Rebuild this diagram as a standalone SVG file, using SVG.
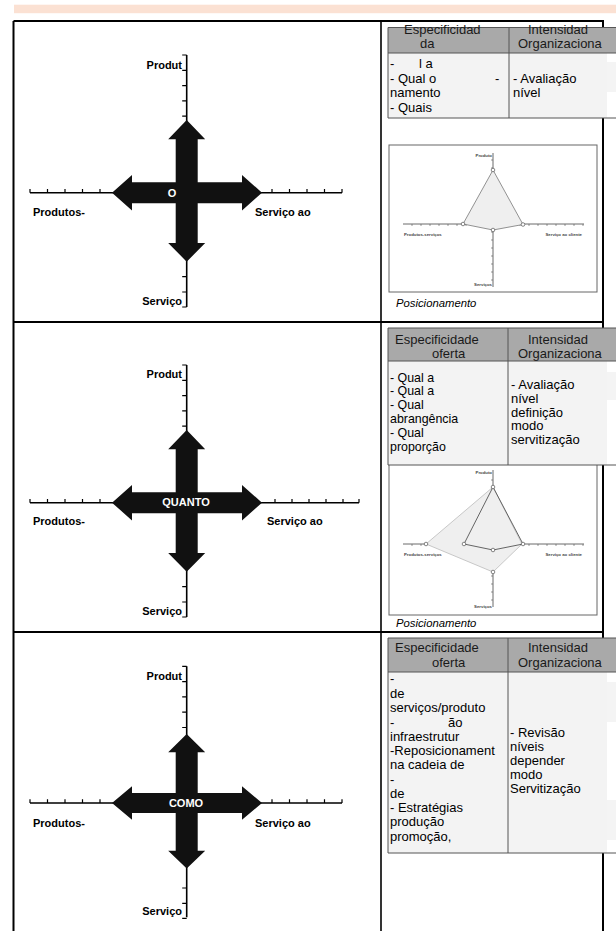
<svg xmlns="http://www.w3.org/2000/svg" width="616" height="931" viewBox="0 0 616 931">
<defs>
<style>
.lbl{font-family:"Liberation Sans",Arial,sans-serif;font-size:11px;font-weight:bold;fill:#000}
.ctr{font-family:"Liberation Sans",Arial,sans-serif;font-size:11px;font-weight:bold;fill:#fff;text-anchor:middle}
.axis{stroke:#000;stroke-width:1.6;fill:none}
.tick{stroke:#000;stroke-width:1.2;fill:none}
.th{font-family:"Liberation Sans",Arial,sans-serif;font-size:13px;fill:#1a1a1a}
.td{font-family:"Liberation Sans",Arial,sans-serif;font-size:13px;fill:#000}
.tds{font-family:"Liberation Sans",Arial,sans-serif;font-size:12.4px;fill:#000}
.hdr{fill:#a9a9a9}
.body{fill:#f3f3f3}
.tline{stroke:#555;stroke-width:1;fill:none}
.frame{fill:#fff;stroke:#666;stroke-width:1}
.rax{stroke:#444;stroke-width:0.8;fill:none}
.rtk{stroke:#555;stroke-width:0.6;fill:none}
.rt{font-family:"Liberation Sans",Arial,sans-serif;font-size:4.3px;font-weight:bold;fill:#444}
.pos{font-family:"Liberation Sans",Arial,sans-serif;font-size:11.3px;font-style:italic;fill:#000}
.vtx{fill:#fff;stroke:#555;stroke-width:0.7}
.border{stroke:#000;stroke-width:2;fill:none}
</style>
<path id="cross" d="M0,-72.7 L18.5,-53.5 L11,-53.5 L11,-10.5 L55.3,-10.5 L55.3,-17.7 L75.3,0 L55.3,17.7 L55.3,10.5 L11,10.5 L11,50.3 L18.5,50.3 L0,69 L-18.5,50.3 L-11,50.3 L-11,10.5 L-54.7,10.5 L-54.7,17.7 L-74.7,0 L-54.7,-17.7 L-54.7,-10.5 L-11,-10.5 L-11,-53.5 L-18.5,-53.5 Z" fill="#111"/>
<path id="vticks" class="tick" d="M182.2,55H186.7 M182.2,70.3H186.7 M182.2,85.6H186.7 M182.2,100.9H186.7 M182.2,116.2H186.7 M182.2,276.7H186.7 M182.2,292H186.7 M182.2,307H186.7"/>
<path id="lticks" class="tick" d="M30,192.7V189 M47.5,192.7V189 M65,192.7V189 M82.5,192.7V189 M100,192.7V189"/>
<g id="rticks">
<path class="rtk" d="M491,160h2M491,168h2M491,176h2M491,184h2M491,192h2M491,200h2M491,208h2M491,216h2M491,232h2M491,240h2M491,248h2M491,256h2M491,264h2M491,272h2M491,280h2"/>
<path class="rtk" d="M412,224v2M421,224v2M430,224v2M439,224v2M448,224v2M457,224v2M466,224v2M475,224v2M484,224v2M502,224v2M511,224v2M520,224v2M529,224v2M538,224v2M547,224v2M556,224v2M565,224v2M574,224v2M583,224v2"/>
</g>
</defs>

<rect x="0" y="0" width="616" height="931" fill="#fff"/>
<rect id="top-band" x="14" y="4.7" width="602" height="8.5" fill="#fbe1d3"/>

<g id="frame">
<path class="border" d="M13.5,21 H604 M13.5,21 V931 M603,21 V931 M13.5,322 H604 M13.5,632 H604"/>
<path d="M381,21 V931" stroke="#000" stroke-width="1.6"/>
</g>

<g id="row1-cross">
<path class="axis" d="M186.7,55 V307 M30,192.7 H342"/>
<use href="#vticks"/>
<use href="#lticks"/>
<path class="tick" d="M272,192.7V189 M289.5,192.7V189 M307,192.7V189 M324.5,192.7V189 M342,192.7V189"/>
<use href="#cross" transform="translate(186.7,192.7)"/>
<text class="lbl" x="182" y="69" text-anchor="end">Produt</text>
<text class="lbl" x="182" y="305" text-anchor="end">Serviço</text>
<text class="lbl" x="33" y="216">Produtos-</text>
<text class="lbl" x="255" y="216">Serviço ao</text>
<text class="ctr" x="172" y="196.5">O</text>
</g>

<g id="row2-cross" transform="translate(0,310)">
<path class="axis" d="M186.7,55 V307 M30,192.7 H359"/>
<use href="#vticks"/>
<use href="#lticks"/>
<path class="tick" d="M275,192.7V189 M292,192.7V189 M309,192.7V189 M326,192.7V189 M343,192.7V189 M359,192.7V189"/>
<use href="#cross" transform="translate(186.7,192.7)"/>
<text class="lbl" x="182" y="68" text-anchor="end">Produt</text>
<text class="lbl" x="182" y="305" text-anchor="end">Serviço</text>
<text class="lbl" x="33" y="215">Produtos-</text>
<text class="lbl" x="267" y="215">Serviço ao</text>
<text class="ctr" x="186" y="196">QUANTO</text>
</g>

<g id="row3-cross" transform="translate(0,610.3)">
<path class="axis" d="M186.7,56 V307 M30,192.7 H342"/>
<use href="#vticks" transform="translate(0,1)"/>
<use href="#lticks"/>
<path class="tick" d="M272,192.7V189 M289.5,192.7V189 M307,192.7V189 M324.5,192.7V189 M342,192.7V189"/>
<use href="#cross" transform="translate(186.7,192.7) scale(1,0.95)"/>
<text class="lbl" x="182" y="69.7" text-anchor="end">Produt</text>
<text class="lbl" x="182" y="304.7" text-anchor="end">Serviço</text>
<text class="lbl" x="33" y="216.7">Produtos-</text>
<text class="lbl" x="255" y="216.7">Serviço ao</text>
<text class="ctr" x="186" y="196.7">COMO</text>
</g>

<g id="radar1">
<rect class="frame" x="389" y="145" width="208" height="147"/>
<path class="rax" d="M493,153 V287 M403,224 H584"/>
<use href="#rticks"/>
<polygon points="493,170 523,224.5 493,230 463,224" fill="#efefef" stroke="#777" stroke-width="0.8"/>
<circle class="vtx" cx="493" cy="170" r="1.8"/>
<circle class="vtx" cx="523" cy="224.5" r="1.8"/>
<circle class="vtx" cx="493" cy="230" r="1.8"/>
<circle class="vtx" cx="463" cy="224" r="1.8"/>
<text class="rt" x="492" y="156.5" text-anchor="end">Produto</text>
<text class="rt" x="404" y="235.5">Produtos-serviços</text>
<text class="rt" x="582" y="235.5" text-anchor="end">Serviço ao cliente</text>
<text class="rt" x="492" y="286" text-anchor="end">Serviços</text>
<text class="pos" x="396" y="307">Posicionamento</text>
</g>

<g id="radar2">
<rect class="frame" x="389" y="462" width="208" height="153"/>
<path class="rax" d="M493,470 V607 M403,544 H584"/>
<use href="#rticks" transform="translate(0,320)"/>
<polygon points="493,487 522,544 493,572 426,544" fill="#efefef" stroke="#bbb" stroke-width="0.8"/>
<polygon points="493,487 523,544 493,550 464,544" fill="none" stroke="#555" stroke-width="0.9"/>
<circle class="vtx" cx="493" cy="487" r="1.8"/>
<circle class="vtx" cx="523" cy="544" r="1.8"/>
<circle class="vtx" cx="493" cy="550" r="1.8"/>
<circle class="vtx" cx="464" cy="544" r="1.8"/>
<circle class="vtx" cx="426" cy="544" r="1.8"/>
<circle class="vtx" cx="493" cy="572" r="1.8"/>
<text class="rt" x="492" y="474" text-anchor="end">Produto</text>
<text class="rt" x="404" y="555.5">Produtos-serviços</text>
<text class="rt" x="582" y="555.5" text-anchor="end">Serviço ao cliente</text>
<text class="rt" x="492" y="608" text-anchor="end">Serviços</text>
<text class="pos" x="396" y="627">Posicionamento</text>
</g>

<g id="table1">
<rect class="hdr" x="388" y="27.5" width="228" height="25.5"/>
<rect class="body" x="388" y="53" width="228" height="65"/>
<rect x="607" y="53" width="9" height="65" fill="#fff"/>
<rect x="607" y="62" width="9" height="30" fill="#f4f4f4"/>
<path class="tline" d="M388,27.5 H616 M388,53 H616 M388,118 H616 M388,27.5 V118 M509,27.5 V118"/>
<text class="th" x="404" y="34">Especificidad</text>
<text class="th" x="420" y="48">da</text>
<text class="th" x="528" y="34">Intensidad</text>
<text class="th" x="518" y="48">Organizaciona</text>
<text class="td" x="390" y="68">-</text>
<text class="td" x="419" y="68">l a</text>
<text class="td" x="390" y="82.5">- Qual o</text>
<text class="td" x="495" y="82.5">-</text>
<text class="td" x="390" y="97">namento</text>
<text class="td" x="390" y="111.5">- Quais</text>
<text class="td" x="513" y="82.5">- Avaliação</text>
<text class="td" x="513" y="97">nível</text>
</g>

<g id="table2">
<rect class="hdr" x="388" y="328" width="228" height="33"/>
<rect class="body" x="388" y="361" width="228" height="104"/>
<rect x="607" y="361" width="9" height="104" fill="#fff"/>
<rect x="607" y="372" width="9" height="28" fill="#f4f4f4"/>
<path class="tline" d="M388,328 H616 M388,361 H616 M388,465 H616 M388,328 V465 M508,328 V465"/>
<text class="th" x="395" y="343.5">Especificidade</text>
<text class="th" x="432" y="358">oferta</text>
<text class="th" x="528" y="343.5">Intensidad</text>
<text class="th" x="518" y="358">Organizaciona</text>
<text class="tds" x="390" y="381.5">- Qual a</text>
<text class="tds" x="390" y="395.4">- Qual a</text>
<text class="tds" x="390" y="409.3">- Qual</text>
<text class="tds" x="390" y="423.2">abrangência</text>
<text class="tds" x="390" y="437.1">- Qual</text>
<text class="tds" x="390" y="451">proporção</text>
<text class="td" x="511" y="389">- Avaliação</text>
<text class="td" x="511" y="403">nível</text>
<text class="td" x="511" y="416.5">definição</text>
<text class="td" x="511" y="430">modo</text>
<text class="td" x="511" y="443.5">servitização</text>
</g>

<g id="table3">
<rect class="hdr" x="388" y="638" width="228" height="34"/>
<rect class="body" x="388" y="672" width="228" height="181"/>
<rect x="607" y="672" width="9" height="181" fill="#fff"/>
<rect x="607" y="682" width="9" height="40" fill="#f4f4f4"/>
<rect x="607" y="800" width="9" height="40" fill="#f4f4f4"/>
<path class="tline" d="M388,638 H616 M388,672 H616 M388,853 H616 M388,638 V853 M508,638 V853"/>
<text class="th" x="395" y="652">Especificidade</text>
<text class="th" x="432" y="667">oferta</text>
<text class="th" x="528" y="652">Intensidad</text>
<text class="th" x="518" y="667">Organizaciona</text>
<text class="td" x="390" y="683">-</text>
<text class="td" x="390" y="698">de</text>
<text class="td" x="390" y="712">serviços/produto</text>
<text class="td" x="390" y="727">-</text>
<text class="td" x="448" y="727">ão</text>
<text class="td" x="390" y="741">infraestrutur</text>
<text class="td" x="390" y="755">-Reposicionament</text>
<text class="td" x="390" y="769">na cadeia de</text>
<text class="td" x="390" y="784">-</text>
<text class="td" x="390" y="798">de</text>
<text class="td" x="390" y="812">- Estratégias</text>
<text class="td" x="390" y="826">produção</text>
<text class="td" x="390" y="841">promoção,</text>
<text class="td" x="510" y="737">- Revisão</text>
<text class="td" x="510" y="751">níveis</text>
<text class="td" x="510" y="765">depender</text>
<text class="td" x="510" y="779">modo</text>
<text class="td" x="510" y="793">Servitização</text>
</g>
</svg>
